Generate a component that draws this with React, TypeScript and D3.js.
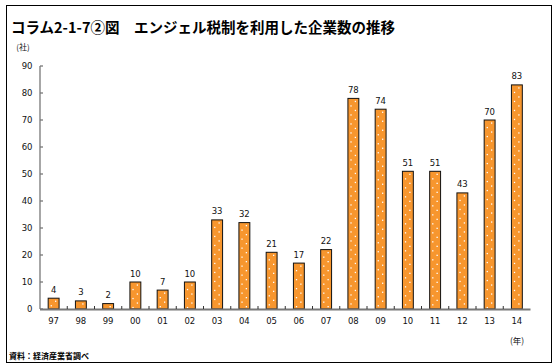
import React from "react";
import * as d3 from "d3";

const categories = ["97","98","99","00","01","02","03","04","05","06","07","08","09","10","11","12","13","14"];
const values = [4,3,2,10,7,10,33,32,21,17,22,78,74,51,51,43,70,83];
const yTicks = [0,10,20,30,40,50,60,70,80,90];

const W = 558, H = 364;
const plot = { left: 40, right: 530.5, top: 66, bottom: 309 };
const font = "'DejaVu Sans', Verdana, sans-serif";
const jfont = "'Noto Sans CJK JP', sans-serif";

export default function App() {
  const x = d3.scaleBand<string>().domain(categories).range([plot.left, plot.right]).paddingInner(0.6).paddingOuter(0.3);
  const y = d3.scaleLinear().domain([0, 90]).range([plot.bottom, plot.top]);
  const step = x.step();
  const bw = x.bandwidth();

  return (
    <svg width={W} height={H} style={{ position: "absolute", left: 0, top: 0 }} xmlns="http://www.w3.org/2000/svg">
      <rect x={0} y={0} width={W} height={H} fill="#fff" />
      <rect x={6.5} y={5.5} width={545} height={357} fill="none" stroke="#000" strokeWidth={1} />
      <text x={11} y={26.5} dominantBaseline="central" fontFamily={jfont} fontWeight="bold" fontSize={14.5} fill="#000">
        コラム2-1-7②図　エンジェル税制を利用した企業数の推移
      </text>
      <text x={23} y={46.5} textAnchor="middle" dominantBaseline="central" fontFamily={jfont} fontSize={8} fill="#111">(社)</text>

      {/* y axis */}
      <line x1={plot.left} x2={plot.left} y1={plot.top} y2={plot.bottom} stroke="#777" strokeWidth={1.3} />
      {yTicks.map(t => (
        <g key={t}>
          <line x1={plot.left} x2={plot.left + 3} y1={y(t)} y2={y(t)} stroke="#777" strokeWidth={1.3} />
          <text x={32.5} y={y(t)} textAnchor="end" dominantBaseline="central" fontFamily={font} fontSize={8.5} fill="#111">{t}</text>
        </g>
      ))}

      {/* bars */}
      {values.map((v, i) => {
        const bx = x(categories[i])!;
        const top = y(v);
        const h = y(0) - top;
        const dots: JSX.Element[] = [];
        const rows = d3.range(top + 3, y(0) - 1, 4.5);
        rows.forEach((ry, k) => {
          const dx = k % 2 === 0 ? bw * 0.68 : bw * 0.28;
          dots.push(<rect key={k} x={bx + dx - 0.6} y={ry - 0.6} width={1.3} height={1.3} fill="#fff" />);
        });
        return (
          <g key={categories[i]}>
            <rect x={bx} y={top} width={bw} height={h} fill="#F7962E" />
            {dots}
            <rect x={bx} y={top} width={bw} height={h} fill="none" stroke="#111" strokeWidth={1} />
            <text x={bx + bw / 2} y={top - 8.5} textAnchor="middle" dominantBaseline="central" fontFamily={font} fontSize={8.5} fill="#111">{v}</text>
          </g>
        );
      })}

      {/* x axis */}
      <line x1={plot.left} x2={plot.right} y1={plot.bottom + 0.5} y2={plot.bottom + 0.5} stroke="#777" strokeWidth={1.8} />
      {categories.map((c, i) => (
        <g key={c}>
          {i > 0 && (
            <line x1={x(c)! - (step - bw) / 2} x2={x(c)! - (step - bw) / 2} y1={plot.bottom - 3} y2={plot.bottom} stroke="#333" strokeWidth={1} />
          )}
          <text x={x(c)! + bw / 2} y={320.7} textAnchor="middle" dominantBaseline="central" fontFamily={font} fontSize={8.5} fill="#111">{c}</text>
        </g>
      ))}
      <text x={517} y={340} textAnchor="middle" dominantBaseline="central" fontFamily={jfont} fontSize={8.5} fill="#111">(年)</text>
      <text x={9} y={355.5} dominantBaseline="central" fontFamily={jfont} fontWeight="bold" fontSize={8} fill="#000">資料：経済産業省調べ</text>
    </svg>
  );
}
